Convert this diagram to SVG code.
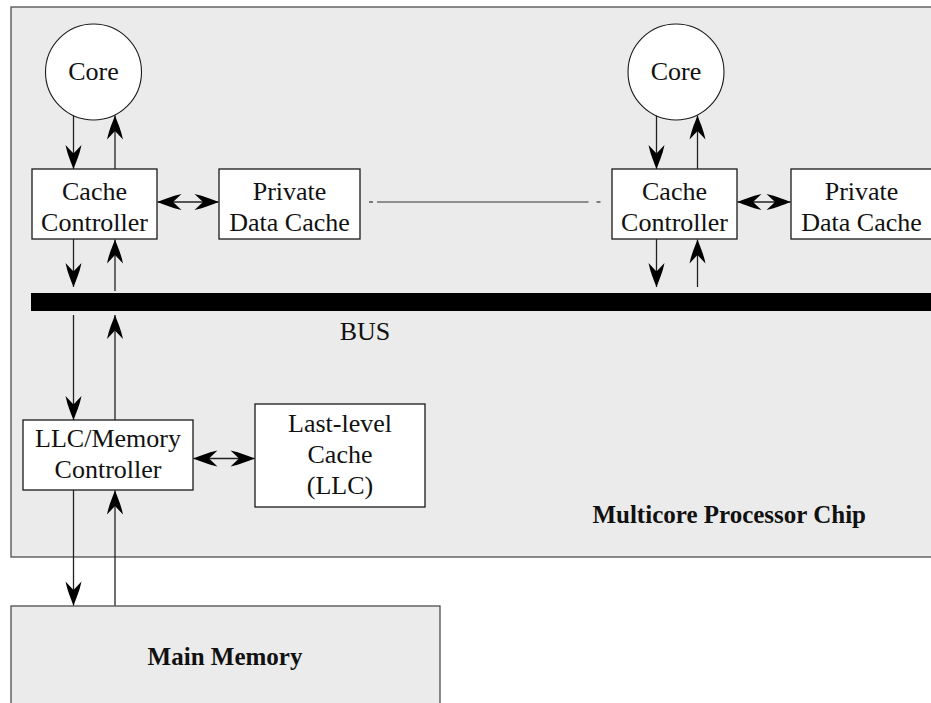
<svg xmlns="http://www.w3.org/2000/svg" width="931" height="703" viewBox="0 0 931 703">
<style>
  .box { fill: #ffffff; stroke: #1a1a1a; stroke-width: 1.3; }
  .core { fill: #ffffff; stroke: #1a1a1a; stroke-width: 1.1; }
  .region { fill: #ebebeb; stroke: #4d4d4d; stroke-width: 1.3; }
  text { font-family: 'Liberation Serif', 'Times New Roman', Times, serif; }
  .t { font-size: 26px; fill: #111; text-anchor: middle; }
  .tb { font-size: 25px; font-weight: bold; fill: #111; }
  .arr { stroke: #222; stroke-width: 1.3; fill: none; marker-end: url(#head); }
  .dbl { stroke: #222; stroke-width: 1.3; fill: none; marker-end: url(#head); marker-start: url(#head); }
  .dash { stroke: #333; stroke-width: 1.2; fill: none; }
</style>
<defs>
  <marker id="head" markerUnits="userSpaceOnUse" viewBox="-25 -9 26 18" refX="0" refY="0" markerWidth="26" markerHeight="18" orient="auto-start-reverse">
    <path d="M0,0 C-6,-2.2 -14,-6 -24,-8 L-15.5,0 L-24,8 C-14,6 -6,2.2 0,0 Z" fill="#000"/>
  </marker>
</defs>

<g id="chip">
  <rect class="region" x="11" y="7" width="935" height="550"/>
  <text class="tb" x="866" y="523" text-anchor="end">Multicore Processor Chip</text>
</g>

<g id="main-memory">
  <rect class="region" x="11" y="606" width="429" height="110"/>
  <text class="tb" x="225" y="665" text-anchor="middle" font-size="26">Main Memory</text>
</g>

<g id="bus">
  <rect x="31" y="293" width="905" height="18" fill="#000"/>
  <text class="t" x="365" y="340">BUS</text>
</g>

<g id="core1">
  <circle class="core" cx="93.5" cy="72" r="48"/>
  <text class="t" x="93.5" y="80">Core</text>
</g>
<g id="cache-controller1">
  <rect class="box" x="32" y="169" width="125" height="70"/>
  <text class="t" x="94.5" y="200">Cache</text>
  <text class="t" x="94.5" y="231">Controller</text>
</g>
<g id="private-cache1">
  <rect class="box" x="219" y="169" width="141" height="70"/>
  <text class="t" x="289.5" y="200">Private</text>
  <text class="t" x="289.5" y="231">Data Cache</text>
</g>

<g id="core2">
  <circle class="core" cx="676" cy="72" r="48"/>
  <text class="t" x="676" y="80">Core</text>
</g>
<g id="cache-controller2">
  <rect class="box" x="612" y="169" width="125" height="70"/>
  <text class="t" x="674.5" y="200">Cache</text>
  <text class="t" x="674.5" y="231">Controller</text>
</g>
<g id="private-cache2">
  <rect class="box" x="791" y="169" width="141" height="70"/>
  <text class="t" x="861.5" y="200">Private</text>
  <text class="t" x="861.5" y="231">Data Cache</text>
</g>

<g id="llc-controller">
  <rect class="box" x="23" y="420" width="170" height="70"/>
  <text class="t" x="108" y="447">LLC/Memory</text>
  <text class="t" x="108" y="478">Controller</text>
</g>
<g id="llc">
  <rect class="box" x="255" y="404" width="170" height="103"/>
  <text class="t" x="340" y="432">Last-level</text>
  <text class="t" x="340" y="463">Cache</text>
  <text class="t" x="340" y="494">(LLC)</text>
</g>

<g id="connectors">
  <line class="arr" x1="73.5" y1="115.5" x2="73.5" y2="169"/>
  <line class="arr" x1="115" y1="169" x2="115" y2="115.5"/>
  <line class="arr" x1="73.5" y1="239" x2="73.5" y2="287"/>
  <line class="arr" x1="115" y1="291" x2="115" y2="239.5"/>
  <line class="arr" x1="73.5" y1="315" x2="73.5" y2="420"/>
  <line class="arr" x1="115" y1="420" x2="115" y2="315"/>
  <line class="arr" x1="73.5" y1="490" x2="73.5" y2="605.5"/>
  <line class="arr" x1="115" y1="605.5" x2="115" y2="490.5"/>
  <line class="arr" x1="656.5" y1="115.5" x2="656.5" y2="169"/>
  <line class="arr" x1="697.5" y1="169" x2="697.5" y2="115.5"/>
  <line class="arr" x1="656.5" y1="239" x2="656.5" y2="287"/>
  <line class="arr" x1="697.5" y1="287" x2="697.5" y2="239.5"/>
  <line class="dbl" x1="157.5" y1="202" x2="218.5" y2="202"/>
  <line class="dbl" x1="737.5" y1="202" x2="790.5" y2="202"/>
  <line class="dbl" x1="193.5" y1="458.5" x2="254.5" y2="458.5"/>
  <line class="dash" x1="369" y1="202" x2="373" y2="202"/>
  <line class="dash" x1="377" y1="202" x2="588.5" y2="202"/>
  <line class="dash" x1="596.5" y1="202" x2="600.5" y2="202"/>
</g>
</svg>
